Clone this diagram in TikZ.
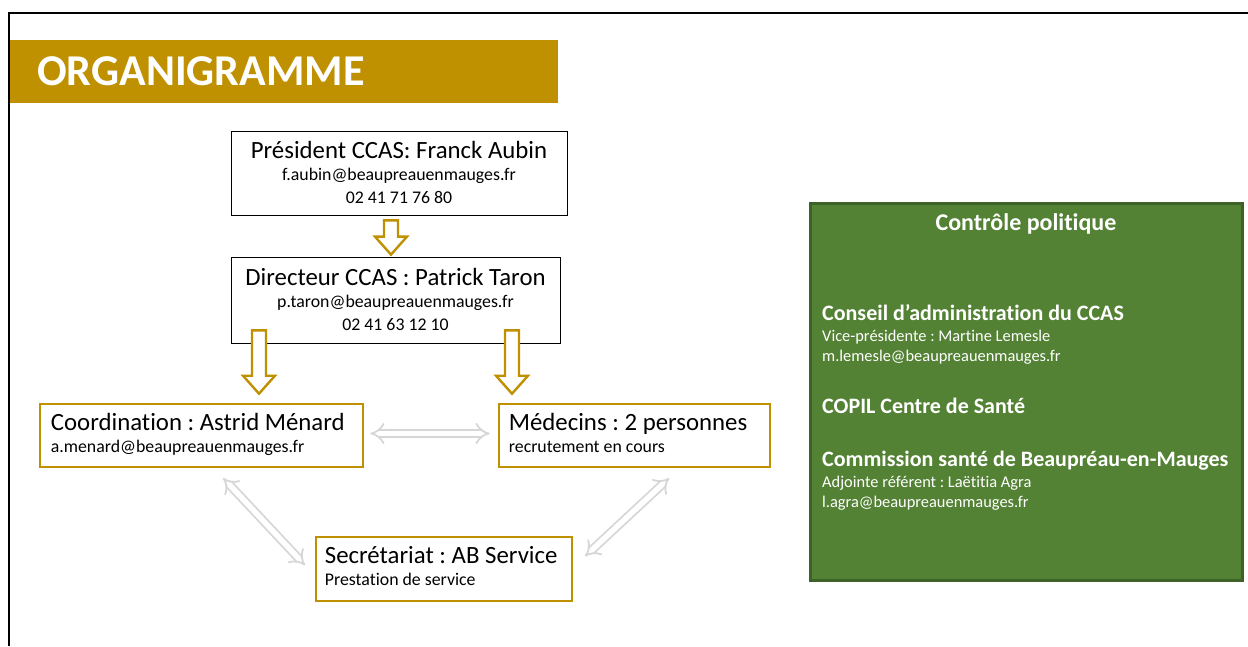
\documentclass[tikz,border=0pt]{standalone}
\usepackage{fontspec}
\setmainfont{Carlito}[Ligatures=NoCommon]
\usetikzlibrary{calc, arrows.meta}
\frenchspacing

\definecolor{gold}{HTML}{BF9000}
\definecolor{leaf}{HTML}{548235}
\definecolor{leafdark}{HTML}{3D6128}
\definecolor{pale}{HTML}{D6D6D6}

\newcommand{\fsz}[2]{\fontsize{#1}{#2}\selectfont}

% flèche creuse dorée entre deux points
\newcommand{\blockarrow}[2]{%
  \draw[gold arrow] ($(#1)+(-7,0)$) -- ($(#2)+(-7,-18)$) -- ($(#2)+(-16,-18)$) -- (#2)
    -- ($(#2)+(16,-18)$) -- ($(#2)+(7,-18)$) -- ($(#1)+(7,0)$) -- cycle;}

\tikzset{
  head box/.style={draw=black, line width=0.8pt, inner sep=0pt},
  staff box/.style={draw=gold, line width=2.6pt, inner sep=0pt, minimum height=63pt},
  big text/.style={inner sep=0pt, font=\fsz{24.8}{26}},
  small text/.style={inner sep=0pt, font=\fsz{17.8}{20}},
  gold arrow/.style={draw=gold, line width=2.4pt, fill=white, line join=miter},
  pale link/.style={draw=pale, double=white, double distance=5.5pt, line width=1.8pt,
    {Implies}-{Implies}, shorten >=1pt, shorten <=1pt},
  green line/.style={anchor=base west, text=white, inner sep=0pt},
}

\begin{document}
\begin{tikzpicture}[x=1pt, y=-1pt]
    \useasboundingbox (0,0) rectangle (1248,646);

    % cadre
    \draw[line width=1.5pt] (8,13) -- (1248,13);
    \draw[line width=1.5pt] (9,12.25) -- (9,646);

    % bandeau titre
    \node[anchor=north west, fill=gold, minimum width=548pt, minimum height=63pt,
      inner sep=0pt] (title) at (10,40) {};
    \node[anchor=west, text=white, inner sep=0pt, font=\bfseries\fsz{44}{44}] (title text)
      at ($(title.west)+(27,0)$) {ORGANIGRAMME};

    % direction
    \node[head box, minimum width=336pt, minimum height=84pt] (pres) at (399,173) {};
    \node[big text, anchor=base] (pres name) at ($(pres.north)+(0,28)$) {Président CCAS: Franck Aubin};
    \node[small text, anchor=base] (pres mail) at ($(pres.north)+(0,50)$) {f.aubin@beaupreauenmauges.fr};
    \node[small text, anchor=base] (pres tel) at ($(pres.north)+(0,73)$) {02 41 71 76 80};

    \node[head box, minimum width=329pt, minimum height=86pt] (dir) at (395.5,300) {};
    \node[big text, anchor=base] (dir name) at ($(dir.north)+(0,29)$) {Directeur CCAS : Patrick Taron};
    \node[small text, anchor=base] (dir mail) at ($(dir.north)+(0,51)$) {p.taron@beaupreauenmauges.fr};
    \node[small text, anchor=base] (dir tel) at ($(dir.north)+(0,74)$) {02 41 63 12 10};

    % équipe
    \node[staff box, minimum width=323pt] (coord) at (201.5,435.5) {};
    \node[big text, anchor=base west] (coord name) at ($(coord.north west)+(12,28)$) {Coordination : Astrid Ménard};
    \node[small text, anchor=base west] (coord mail) at ($(coord.north west)+(12,50)$) {a.menard@beaupreauenmauges.fr};

    \node[staff box, minimum width=271pt] (med) at (634.5,435.5) {};
    \node[big text, anchor=base west] (med name) at ($(med.north west)+(11,28)$) {Médecins : 2 personnes};
    \node[small text, anchor=base west] (med note) at ($(med.north west)+(11,50)$) {recrutement en cours};

    \node[staff box, minimum width=256pt, minimum height=64pt] (sec) at (444,569) {};
    \node[big text, anchor=base west] (sec name) at ($(sec.north west)+(10,28)$) {Secrétariat : AB Service};
    \node[small text, anchor=base west] (sec note) at ($(sec.north west)+(10,50)$) {Prestation de service};

    % flèches hiérarchiques
    \coordinate (top from) at ($(pres.south)+(-8,5)$);
    \coordinate (top to) at ($(dir.north)+(-4.5,-2)$);
    \coordinate (left from) at ($(dir.south)+(-136.5,-13)$);
    \path (left from |- coord.north) ++(0,-9) coordinate (left to);
    \coordinate (right from) at ($(dir.south)+(116.5,-13)$);
    \path (right from |- med.north) ++(0,-9) coordinate (right to);
    \blockarrow{top from}{top to}
    \blockarrow{left from}{left to}
    \blockarrow{right from}{right to}

    % liens
    \draw[pale link] ($(coord.east)+(5,-2)$) -- ($(med.west)+(-7,-2)$);
    \draw[pale link] ($(coord.south)+(21,9)$) -- ($(sec.west)+(-9,-3)$);
    \draw[pale link] ($(med.south)+(35.5,9)$) -- ($(sec.east)+(11,-12)$);

    % contrôle politique
    \node[fill=leaf, draw=leafdark, line width=3pt, minimum width=432pt,
      minimum height=377pt] (ctrl) at (1026,391.5) {};
    \node[anchor=base, text=white, inner sep=0pt, font=\bfseries\fsz{24}{26}] (ctrl head)
      at ($(ctrl.north)+(0,29)$) {Contrôle politique};
    \node[green line, font=\bfseries\fsz{22}{24}] (ca) at (822,320) {Conseil d’administration du CCAS};
    \node[green line, font=\fsz{16.4}{18}] (ca vp) at (822,341) {Vice-présidente : Martine Lemesle};
    \node[green line, font=\fsz{16.4}{18}] (ca mail) at (822,361) {m.lemesle@beaupreauenmauges.fr};
    \node[green line, font=\bfseries\fsz{22}{24}] (copil) at (822,413) {COPIL Centre de Santé};
    \node[green line, font=\bfseries\fsz{22}{24}] (com) at (822,466) {Commission santé de Beaupréau-en-Mauges};
    \node[green line, font=\fsz{16.4}{18}] (com adj) at (822,487) {Adjointe référent : Laëtitia Agra};
    \node[green line, font=\fsz{16.4}{18}] (com mail) at (822,507) {l.agra@beaupreauenmauges.fr};
\end{tikzpicture}
\end{document}
